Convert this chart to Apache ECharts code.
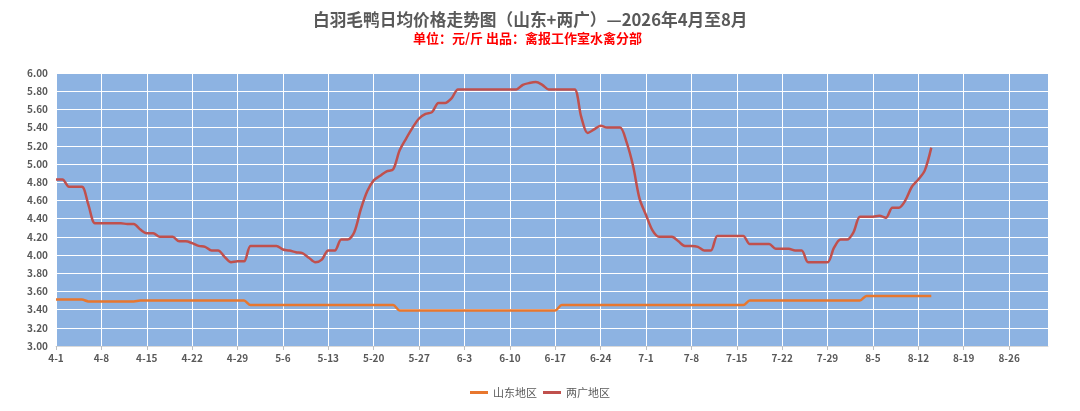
<!DOCTYPE html>
<html>
<head>
<meta charset="utf-8">
<title>白羽毛鸭日均价格走势图</title>
<script src="https://cdn.jsdelivr.net/npm/echarts@6/dist/echarts.min.js"></script>
<style>
  html, body { margin: 0; padding: 0; background: #fff; }
  #chart { width: 1080px; height: 411px; }
</style>
</head>
<body>
<div id="chart"></div>
<script>
// 日期轴：4-1 到 9-1，每天一个分类
const startMonth = 4;
const monthDays = [30, 31, 30, 31, 31];
const dates = [];
monthDays.forEach((n, i) => {
  for (let d = 1; d <= n; d++) dates.push((startMonth + i) + '-' + d);
});
dates.push('9-1');

// 山东地区 日均价 (元/斤), 4-1 ~ 8-14
const shandong = [
  3.51, 3.51, 3.51, 3.51, 3.51, 3.49, 3.49, 3.49, 3.49, 3.49,
  3.49, 3.49, 3.49, 3.50, 3.50, 3.50, 3.50, 3.50, 3.50, 3.50,
  3.50, 3.50, 3.50, 3.50, 3.50, 3.50, 3.50, 3.50, 3.50, 3.50,
  3.45, 3.45, 3.45, 3.45, 3.45, 3.45, 3.45, 3.45, 3.45, 3.45,
  3.45, 3.45, 3.45, 3.45, 3.45, 3.45, 3.45, 3.45, 3.45, 3.45,
  3.45, 3.45, 3.45, 3.39, 3.39, 3.39, 3.39, 3.39, 3.39, 3.39,
  3.39, 3.39, 3.39, 3.39, 3.39, 3.39, 3.39, 3.39, 3.39, 3.39,
  3.39, 3.39, 3.39, 3.39, 3.39, 3.39, 3.39, 3.39, 3.45, 3.45,
  3.45, 3.45, 3.45, 3.45, 3.45, 3.45, 3.45, 3.45, 3.45, 3.45,
  3.45, 3.45, 3.45, 3.45, 3.45, 3.45, 3.45, 3.45, 3.45, 3.45,
  3.45, 3.45, 3.45, 3.45, 3.45, 3.45, 3.45, 3.50, 3.50, 3.50,
  3.50, 3.50, 3.50, 3.50, 3.50, 3.50, 3.50, 3.50, 3.50, 3.50,
  3.50, 3.50, 3.50, 3.50, 3.50, 3.55, 3.55, 3.55, 3.55, 3.55,
  3.55, 3.55, 3.55, 3.55, 3.55, 3.55
];

// 两广地区 日均价 (元/斤), 4-1 ~ 8-14
const liangguang = [
  4.83, 4.83, 4.75, 4.75, 4.75, 4.55, 4.35, 4.35, 4.35, 4.35,
  4.35, 4.34, 4.34, 4.28, 4.24, 4.24, 4.20, 4.20, 4.20, 4.15,
  4.15, 4.13, 4.10, 4.09, 4.05, 4.05, 3.98, 3.92, 3.93, 3.93,
  4.10, 4.10, 4.10, 4.10, 4.10, 4.06, 4.05, 4.03, 4.02, 3.97,
  3.92, 3.95, 4.05, 4.05, 4.17, 4.17, 4.25, 4.50, 4.70, 4.82,
  4.87, 4.92, 4.94, 5.15, 5.28, 5.40, 5.50, 5.55, 5.57, 5.67,
  5.67, 5.72, 5.82, 5.82, 5.82, 5.82, 5.82, 5.82, 5.82, 5.82,
  5.82, 5.82, 5.87, 5.89, 5.90, 5.87, 5.82, 5.82, 5.82, 5.82,
  5.82, 5.52, 5.34, 5.38, 5.42, 5.40, 5.40, 5.40, 5.24, 4.98,
  4.62, 4.44, 4.27, 4.20, 4.20, 4.20, 4.15, 4.10, 4.10, 4.09,
  4.05, 4.05, 4.21, 4.21, 4.21, 4.21, 4.21, 4.12, 4.12, 4.12,
  4.12, 4.07, 4.07, 4.07, 4.05, 4.05, 3.92, 3.92, 3.92, 3.92,
  4.08, 4.17, 4.17, 4.25, 4.42, 4.42, 4.42, 4.43, 4.41, 4.52,
  4.52, 4.60, 4.75, 4.83, 4.93, 5.18
];

const seriesNames = ['山东地区', '两广地区'];
const seriesColors = ['#E8772E', '#C0504D'];

const chart = echarts.init(document.getElementById('chart'));
const fontFamily = '"Noto Sans CJK SC", "Noto Sans", sans-serif';

chart.setOption({
  backgroundColor: '#fff',
  animation: false,
  textStyle: { fontFamily },
  title: [
    {
      text: '白羽毛鸭日均价格走势图（山东+两广）—2026年4月至8月',
      left: 308,
      top: 6,
      textStyle: { color: '#595959', fontSize: 16.7, fontWeight: 'bold', fontFamily }
    },
    {
      text: '单位：元/斤 出品：禽报工作室水禽分部',
      left: 408,
      top: 27,
      textStyle: { color: '#FF0000', fontSize: 13, fontWeight: 'bold', fontFamily }
    }
  ],
  legend: {
    data: seriesNames,
    bottom: 8,
    left: 'center',
    icon: 'rect',
    itemWidth: 18,
    itemHeight: 3,
    itemGap: 6,
    textStyle: { color: '#595959', fontSize: 11 }
  },
  grid: {
    left: 56,
    right: 32,
    top: 73,
    bottom: 65,
    show: true,
    backgroundColor: '#8DB3E2',
    borderWidth: 0
  },
  xAxis: {
    type: 'category',
    data: dates,
    boundaryGap: false,
    axisLine: { show: true, lineStyle: { color: '#D9D9D9', width: 1 } },
    axisTick: { show: true, interval: 6, length: 4, lineStyle: { color: '#BFBFBF' } },
    axisLabel: { interval: 6, color: '#595959', fontSize: 10, fontWeight: 'bold', margin: 7 },
    splitLine: { show: true, interval: 6, lineStyle: { color: '#FFFFFF', width: 1 } }
  },
  yAxis: {
    type: 'value',
    min: 3,
    max: 6,
    interval: 0.2,
    axisLine: { show: false },
    axisTick: { show: false },
    axisLabel: {
      color: '#595959',
      fontSize: 10,
      fontWeight: 'bold',
      margin: 8,
      formatter: v => v.toFixed(2)
    },
    splitLine: { lineStyle: { color: '#FFFFFF', width: 1 } }
  },
  series: [
    {
      name: seriesNames[0],
      type: 'line',
      data: shandong,
      smooth: 0.3,
      showSymbol: false,
      lineStyle: { width: 2.5, color: seriesColors[0] },
      itemStyle: { color: seriesColors[0] }
    },
    {
      name: seriesNames[1],
      type: 'line',
      data: liangguang,
      smooth: 0.3,
      showSymbol: false,
      lineStyle: { width: 2.5, color: seriesColors[1] },
      itemStyle: { color: seriesColors[1] }
    }
  ]
});
</script>
</body>
</html>
